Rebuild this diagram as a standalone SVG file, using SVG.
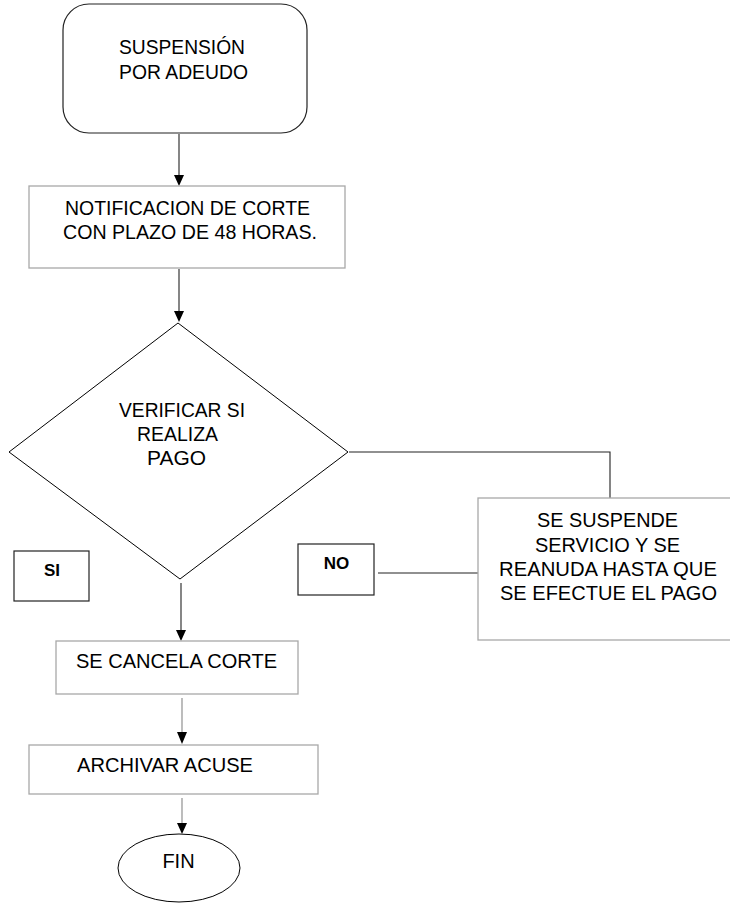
<svg xmlns="http://www.w3.org/2000/svg" width="730" height="905" viewBox="0 0 730 905">
<style>
text{font-family:"Liberation Sans",Arial,sans-serif;font-size:20px;fill:#000;text-anchor:middle}
.b{font-weight:bold;font-size:17px}
.dark{fill:#fff;stroke:#222;stroke-width:1.2}
.gray{fill:#fff;stroke:#a8a8a8;stroke-width:1.3}
.line{fill:none;stroke:#222;stroke-width:1.1}
.gline{fill:none;stroke:#999;stroke-width:1.3}
.head{fill:#000}
</style>
<rect width="730" height="905" fill="#fff"/>
<g id="connectors">
<path class="line" d="M179,134 L179,175"/>
<path class="head" d="M174,175 L184,175 L179,186 Z"/>
<path class="line" d="M179,269 L179,311"/>
<path class="head" d="M174,311 L184,311 L179,322 Z"/>
<path class="line" d="M181,583 L181,630"/>
<path class="head" d="M176,630 L186,630 L181,641 Z"/>
<path class="gline" d="M182,698 L182,732"/>
<path class="head" d="M177,732 L187,732 L182,744 Z"/>
<path class="gline" d="M182,798 L182,823"/>
<path class="head" d="M177,823 L187,823 L182,834 Z"/>
<path class="line" d="M349,452 L610,452 L610,498"/>
<path class="line" d="M378,573 L478,573"/>
</g>
<g id="start">
<rect class="dark" x="63" y="4" width="244" height="129" rx="26" ry="26"/>
<text x="182" y="54" textLength="126" lengthAdjust="spacingAndGlyphs">SUSPENSIÓN</text>
<text x="183.5" y="79" textLength="129" lengthAdjust="spacingAndGlyphs">POR ADEUDO</text>
</g>
<g id="notificacion">
<rect class="gray" x="29" y="186" width="316" height="82"/>
<text x="187.5" y="215" textLength="245" lengthAdjust="spacingAndGlyphs">NOTIFICACION DE CORTE</text>
<text x="190" y="239" textLength="254" lengthAdjust="spacingAndGlyphs">CON PLAZO DE 48 HORAS.</text>
</g>
<g id="decision">
<polygon points="178,323 348,452 180,579 9,452" fill="#fff" stroke="#000" stroke-width="1"/>
<text x="182" y="417" textLength="126" lengthAdjust="spacingAndGlyphs">VERIFICAR SI</text>
<text x="177.5" y="441" textLength="81" lengthAdjust="spacingAndGlyphs">REALIZA</text>
<text x="176.5" y="465" textLength="59" lengthAdjust="spacingAndGlyphs">PAGO</text>
</g>
<g id="suspende">
<rect class="gray" x="478" y="498" width="260" height="142"/>
<text x="607.5" y="527" textLength="141" lengthAdjust="spacingAndGlyphs">SE SUSPENDE</text>
<text x="607.5" y="552" textLength="145" lengthAdjust="spacingAndGlyphs">SERVICIO Y SE</text>
<text x="608" y="576" textLength="218" lengthAdjust="spacingAndGlyphs">REANUDA HASTA QUE</text>
<text x="608.5" y="600" textLength="217" lengthAdjust="spacingAndGlyphs">SE EFECTUE EL PAGO</text>
</g>
<g id="no">
<rect class="dark" x="298" y="544" width="76" height="51"/>
<text class="b" x="336.5" y="569">NO</text>
</g>
<g id="si">
<rect class="dark" x="14" y="551" width="75" height="50"/>
<text class="b" x="52" y="576">SI</text>
</g>
<g id="cancela">
<rect class="gray" x="56" y="641" width="242" height="53"/>
<text x="176.5" y="668" textLength="201" lengthAdjust="spacingAndGlyphs">SE CANCELA CORTE</text>
</g>
<g id="archivar">
<rect class="gray" x="29" y="745" width="289" height="49"/>
<text x="165" y="772" textLength="176" lengthAdjust="spacingAndGlyphs">ARCHIVAR ACUSE</text>
</g>
<g id="fin">
<ellipse cx="179" cy="868" rx="61" ry="34" fill="#fff" stroke="#000" stroke-width="1"/>
<text x="178.5" y="868">FIN</text>
</g>
</svg>
